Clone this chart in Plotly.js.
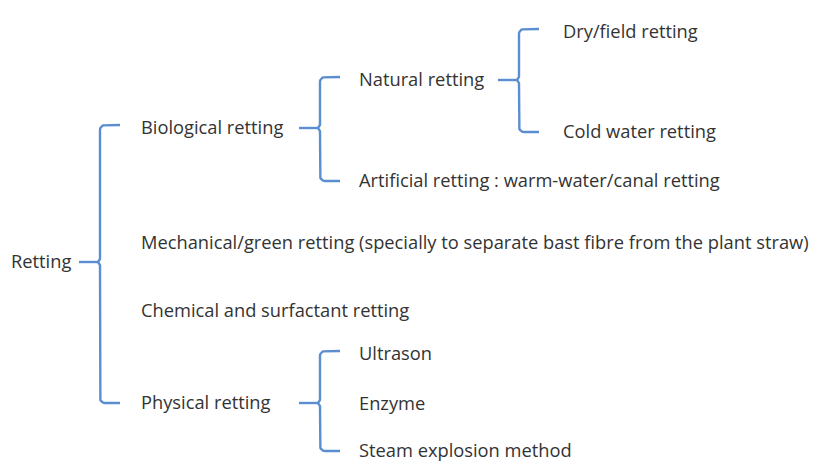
<!DOCTYPE html>
<html>
<head>
<meta charset="utf-8">
<script src="https://cdn.plot.ly/plotly-3.0.1.min.js"></script>
<style>html,body{margin:0;padding:0;background:#fff;}#chart{width:832px;height:464px;}</style>
</head>
<body>
<div id="chart"></div>
<script>
// ---- data: tree of retting methods ----
const labels = [
  "Retting",
  "Biological retting",
  "Natural retting",
  "Dry/field retting",
  "Cold water retting",
  "Artificial retting : warm-water/canal retting",
  "Mechanical/green retting (specially to separate bast fibre from the plant straw)",
  "Chemical and surfactant retting",
  "Physical retting",
  "Ultrason",
  "Enzyme",
  "Steam explosion method"
];
const parents = [-1, 0, 1, 2, 2, 1, 0, 0, 0, 8, 8, 8];

// ---- layout (diagram geometry, not data) ----
const rowY = [263, 129, 81, 33, 133, 182, 244, 312, 404, 355, 405, 452];
const colX = [11, 141, 359, 563];
const braceOffset = [-41, -39, -44];   // vertical bracket x relative to child column
const dashLen = 21, tickLen = 20, r = 5;
const braceColor = "#5b8ed0";

function depth(i){ let d = 0; while (parents[i] >= 0){ i = parents[i]; d++; } return d; }

const traces = [];
// brackets
labels.forEach((_, p) => {
  const kids = parents.map((q, i) => q === p ? i : -1).filter(i => i >= 0);
  if (!kids.length) return;
  const d = depth(p) + 1;
  const bx = colX[d] + braceOffset[d - 1];
  const ys = kids.map(k => rowY[k]);
  const y0 = Math.min(...ys) - 4, y1 = Math.max(...ys) - 1, ym = rowY[p] - 1;
  const xs = [], yv = [];
  xs.push(bx + tickLen); yv.push(y0);
  for (let a = 0; a <= 8; a++) { const t = Math.PI/2 * a/8; xs.push(bx + r - r*Math.sin(t)); yv.push(y0 + r - r*Math.cos(t)); }
  xs.push(bx); yv.push(ym - 3);
  xs.push(bx - 2); yv.push(ym);
  xs.push(bx); yv.push(ym + 3);
  for (let a = 0; a <= 8; a++) { const t = Math.PI/2 * a/8; xs.push(bx + r - r*Math.cos(t)); yv.push(y1 - r + r*Math.sin(t)); }
  xs.push(bx + tickLen); yv.push(y1);
  traces.push({x: xs, y: yv, mode: "lines", line: {color: braceColor, width: 2.4}, hoverinfo: "skip", showlegend: false});
  traces.push({x: [bx - dashLen, bx - 2], y: [ym, ym], mode: "lines", line: {color: braceColor, width: 2.4}, hoverinfo: "skip", showlegend: false});
});

// labels
traces.push({
  x: labels.map((_, i) => colX[depth(i)]),
  y: rowY,
  text: labels,
  mode: "text",
  textposition: "middle right",
  textfont: {family: "'Open Sans', sans-serif", size: 18.3, color: "#333333"},
  hoverinfo: "skip",
  showlegend: false
});

Plotly.newPlot("chart", traces, {
  width: 832, height: 464,
  margin: {l: 0, r: 0, t: 0, b: 0},
  paper_bgcolor: "#ffffff", plot_bgcolor: "#ffffff",
  xaxis: {range: [0, 832], visible: false, fixedrange: true},
  yaxis: {range: [464, 0], visible: false, fixedrange: true},
  showlegend: false
}, {staticPlot: true});
</script>
</body>
</html>
